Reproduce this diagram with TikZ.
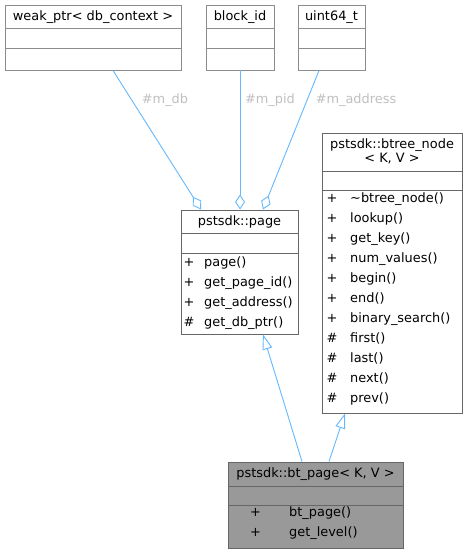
\documentclass[tikz,border=0pt]{standalone}
\usepackage{fontspec}
\setmainfont{DejaVu Sans}
\usetikzlibrary{arrows.meta}
\definecolor{edgeblue}{HTML}{63B8FF}
\definecolor{lblgray}{HTML}{BFBFBF}
\definecolor{bordA}{HTML}{8C8C8C}
\definecolor{bordB}{HTML}{666666}
\definecolor{curfill}{HTML}{999999}
\tikzset{
  box/.style={draw=bordB, line width=0.9pt, fill=white, rectangle, inner sep=0pt, anchor=north west},
  topbox/.style={box, draw=bordA},
  sep/.style={draw=bordB, line width=0.9pt},
  txt/.style={font=\fontsize{12.9}{15}\selectfont, inner sep=0pt, text height=9.4pt, text depth=2.6pt},
  mem/.style={txt, anchor=west},
  lbl/.style={txt, text=lblgray},
  edge/.style={draw=edgeblue, line width=0.9pt},
  agg/.style={edge, -{Diamond[open, length=15pt, width=10pt, line width=0.9pt]}},
  inh/.style={edge, -{Triangle[open, length=15pt, width=10pt, line width=0.9pt]}},
}
\begin{document}
\begin{tikzpicture}[x=1pt, y=-1pt]
\useasboundingbox (0,0) rectangle (467,553);
% weak_ptr
\node[topbox, minimum width=176pt, minimum height=65pt] (weak) at (5,5) {};
\draw[sep, draw=bordA] (5,28) -- (181,28) (5,48) -- (181,48);
\node[txt] (weakt) at (93,16.7) {weak\_ptr< db\_context >};
% block_id
\node[topbox, minimum width=68pt, minimum height=65pt] (blk) at (206,5) {};
\draw[sep, draw=bordA] (206,28) -- (274,28) (206,48) -- (274,48);
\node[txt] (blkt) at (240,16.7) {block\_id};
% uint64_t
\node[topbox, minimum width=67pt, minimum height=65pt] (u64) at (298,5) {};
\draw[sep, draw=bordA] (298,28) -- (365,28) (298,48) -- (365,48);
\node[txt] (u64t) at (331.5,16.7) {uint64\_t};
% pstsdk::page
\node[box, minimum width=117pt, minimum height=124pt] (page) at (181,210) {};
\draw[sep] (181,233) -- (298,233) (181,253) -- (298,253);
\node[txt] (paget) at (239.5,221.7) {pstsdk::page};
\node[mem] (pp1) at (183.5,262.7) {+};
\node[mem] (pm1) at (204,262.7) {page()};
\node[mem] (pp2) at (183.5,282.7) {+};
\node[mem] (pm2) at (204,282.7) {get\_page\_id()};
\node[mem] (pp3) at (183.5,302.7) {+};
\node[mem] (pm3) at (204,302.7) {get\_address()};
\node[mem] (pp4) at (183.5,322.7) {\#};
\node[mem] (pm4) at (204,322.7) {get\_db\_ptr()};
% pstsdk::btree_node
\node[box, minimum width=140pt, minimum height=280pt] (bt) at (322,133) {};
\draw[sep] (322,171) -- (462,171) (322,190) -- (462,190);
\node[txt] (btt1) at (392,145) {pstsdk::btree\_node};
\node[txt] (btt2) at (392,159) {< K, V >};
\foreach \i/\s/\m in {0/+/\textasciitilde btree\_node(), 1/+/lookup(), 2/+/get\_key(), 3/+/num\_values(), 4/+/begin(), 5/+/end(), 6/+/binary\_search(), 7/\#/first(), 8/\#/last(), 9/\#/next(), 10/\#/prev()}{
  \node[mem] (bs\i) at (326.5,199.3+20*\i) {\s};
  \node[mem] (bm\i) at (350,199.3+20*\i) {\m};
}
% bt_page
\node[box, fill=curfill, minimum width=175pt, minimum height=86pt] (cur) at (228,462) {};
\draw[sep] (228,486) -- (403,486) (228,505) -- (403,505);
\node[txt] (curt) at (315.5,474) {pstsdk::bt\_page< K, V >};
\node[mem] (cp1) at (250,513.3) {+};
\node[mem] (cm1) at (289,513.3) {bt\_page()};
\node[mem] (cp2) at (250,533.3) {+};
\node[mem] (cm2) at (289,533.3) {get\_level()};
% edge endpoints
\coordinate (wk) at (113,70.5);
\coordinate (pgA) at (201,209.5);
\coordinate (bk) at (240,70.5);
\coordinate (pgB) at (240,209.5);
\coordinate (uk) at (319,70.5);
\coordinate (pgC) at (263,209.5);
\coordinate (cA) at (302,461.5);
\coordinate (pgD) at (263,334.5);
\coordinate (cB) at (329,461.5);
\coordinate (btD) at (345,413.5);
\draw[agg] (wk) -- (pgA);
\draw[agg] (bk) -- (pgB);
\draw[agg] (uk) -- (pgC);
\draw[inh] (cA) -- (pgD);
\draw[inh] (cB) -- (btD);
% labels
\node[lbl] (l1) at (165,100) {\#m\_db};
\node[lbl] (l2) at (270,100) {\#m\_pid};
\node[lbl] (l3) at (356,100) {\#m\_address};
\end{tikzpicture}
\end{document}
